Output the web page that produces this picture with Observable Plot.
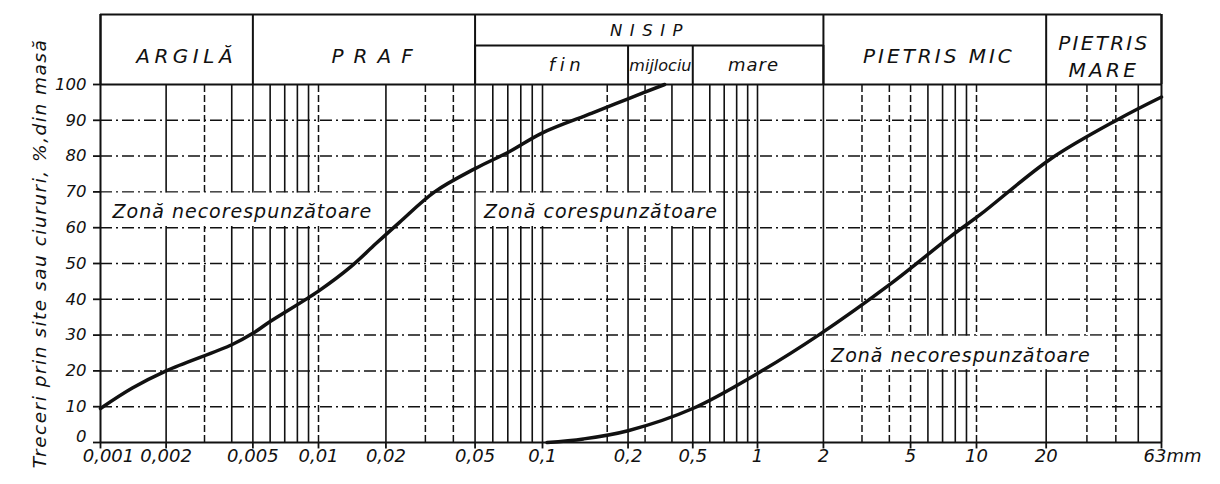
<!DOCTYPE html>
<html><head><meta charset="utf-8">
<script src="https://cdn.jsdelivr.net/npm/d3@7"></script>
<script src="https://cdn.jsdelivr.net/npm/@observablehq/plot@0.6"></script>
<style>
html,body{margin:0;padding:0;background:#fff;}
</style>
</head><body><div id="chart"></div>
<script>
// ---- data ----
const upperLimit = [[0.001,9.5],[0.0014,15.2],[0.002,20],[0.004,27.3],[0.005,30.5],[0.006,33.8],[0.01,42.3],[0.014,49.2],[0.018,55.5],[0.023,61.5],[0.033,70],[0.05,76.5],[0.07,81],[0.1,86.5],[0.17,92],[0.25,96],[0.37,100]];
const lowerLimit = [[0.105,0],[0.155,1],[0.25,3.3],[0.5,9.5],[1,19.3],[1.9,30],[4.05,44.3],[7.6,57.5],[10.4,63.7],[20.9,79.2],[41,90.3],[63,96.5]];
const xTickValues = [0.001,0.002,0.005,0.01,0.02,0.05,0.1,0.25,0.5,1,2,5,10,20];
const xTickLabels = ["0,001","0,002","0,005","0,01","0,02","0,05","0,1","0,2","0,5","1","2","5","10","20"];
const xEndValue = [63];
const xEndLabel = ["63mm"];
const yTickValues = [0,10,20,30,40,50,60,70,80,90,100];
const gridSolid = [0.002,0.004,0.005,0.006,0.007,0.008,0.009,0.02,0.05,0.06,0.07,0.08,0.09,0.1,0.25,0.4,0.5,0.6,0.7,0.8,0.9,1,2,6,7,8,9,20,50];
const gridDashed = [0.003,0.01,0.03,0.04,0.2,0.3,3,4,5,10,30,40];
const gridRows = [10,20,30,40,50,60,70,80,90];
const fractionNames = ["ARGILĂ","PRAF","NISIP","PIETRIS MIC","PIETRIS\nMARE"];
const fractionBounds = [0.001,0.005,0.05,2,20,63];
const sandNames = ["fin","mijlociu","mare"];
const sandBounds = [0.05,0.25,0.5,2];
const zoneLabels = ["Zonă necorespunzătoare","Zonă corespunzătoare","Zonă necorespunzătoare"];
const zoneX = [[0.001,0.02],[0.05,0.7],[2,36]];
const zoneY = [[60,70],[60,70],[20,30]];
const yTitle = "Treceri prin site sau ciururi, %,din masă";

// ---- layout ----
const INK = "#111";
const FONT = "DejaVu Sans";
const headerTop = 119.55, headerMid = 110.9;
const gmean = (a,b) => Math.sqrt(a*b);
const fractions = fractionNames.map((n,i) => ({name:n, x: gmean(fractionBounds[i], fractionBounds[i+1])}));
const sands = sandNames.map((n,i) => ({name:n, x: gmean(sandBounds[i], sandBounds[i+1])}));
const zones = zoneLabels.map((n,i) => ({name:n, x1:zoneX[i][0], x2:zoneX[i][1], y1:zoneY[i][0], y2:zoneY[i][1]}));
const italic = {fontStyle: "italic", fill: INK};

const chart = Plot.plot({
  width: 1220, height: 484,
  marginLeft: 100, marginRight: 59, marginTop: 84, marginBottom: 42,
  style: {fontFamily: FONT, background: "#fff", color: INK},
  x: {type: "log", domain: [0.001,0.01,0.1,1,10,63], range: [100,318,542,757,976,1161], axis: null},
  y: {domain: [0,100], axis: null},
  marks: [
    // grid
    Plot.ruleY(gridRows, {x1: 0.001, x2: 63, stroke: INK, strokeWidth: 1.5, strokeDasharray: "12,4,2,4"}),
    Plot.ruleX(gridDashed, {y1: 0, y2: 100, stroke: INK, strokeWidth: 1.5, strokeDasharray: "7,3"}),
    Plot.ruleX(gridSolid, {y1: 0, y2: 100, stroke: INK, strokeWidth: 1.6}),
    // zone boxes
    Plot.rect(zones, {x1: "x1", x2: "x2", y1: "y1", y2: "y2", fill: "#fff", inset: 1.2}),
    Plot.text(zones, {x: d => gmean(d.x1, d.x2), y: d => (d.y1 + d.y2)/2 - 0.7, text: "name", fontSize: 19, ...italic}),
    // frame
    Plot.ruleY([0,100], {x1: 0.001, x2: 63, stroke: INK, strokeWidth: 2.1}),
    Plot.ruleY([headerTop], {x1: 0.001, x2: 63, stroke: INK, strokeWidth: 2.1}),
    Plot.ruleX(fractionBounds, {y1: 0, y2: headerTop, stroke: INK, strokeWidth: 2, filter: (d,i) => i === 0 || i === fractionBounds.length - 1}),
    Plot.ruleX(fractionBounds, {y1: 100, y2: headerTop, stroke: INK, strokeWidth: 2}),
    Plot.ruleY([headerMid], {x1: sandBounds[0], x2: sandBounds[sandBounds.length-1], stroke: INK, strokeWidth: 2}),
    Plot.ruleX(sandBounds, {y1: 100, y2: headerMid, stroke: INK, strokeWidth: 2}),
    // header texts
    Plot.text(fractions.filter(d => d.name !== "NISIP"), {x: "x", y: 108.3, text: "name", fontSize: 20, lineHeight: 1.35, ...italic}),
    Plot.text(fractions.filter(d => d.name === "NISIP"), {x: "x", y: 115, text: "name", fontSize: 16.5, ...italic}),
    Plot.text(sands, {x: "x", y: 105.3, text: "name", fontSize: 18, ...italic}),
    // curves
    Plot.line(upperLimit, {x: d => d[0], y: d => d[1], curve: "catmull-rom", stroke: INK, strokeWidth: 3.5}),
    Plot.line(lowerLimit, {x: d => d[0], y: d => d[1], curve: "catmull-rom", stroke: INK, strokeWidth: 3.5}),
    // axes
    Plot.axisY({ticks: yTickValues, tickFormat: d => (d === 0 ? "" : String(d)), tickSize: 7, tickPadding: 7, fontSize: 16.5, fontStyle: "italic", label: null, strokeWidth: 1.8}),
    Plot.text(yTickValues.slice(0, 1), {x: 0.001, y: d => d, dx: -14, dy: -6, textAnchor: "end", text: d => String(d), fontSize: 16.5, ...italic}),
    Plot.ruleX(xTickValues.concat(xEndValue), {y1: 0, y2: -1.8, stroke: INK, strokeWidth: 1.8}),
    Plot.text(xTickValues.slice(0, 1), {x: d => d, y: 0, dy: 14, dx: 8, text: (d,i) => xTickLabels[i], fontSize: 18, ...italic}),
    Plot.text(xTickValues.slice(1), {x: d => d, y: 0, dy: 14, text: (d,i) => xTickLabels[i + 1], fontSize: 18, ...italic}),
    Plot.text(xEndValue, {x: d => d, y: 0, dy: 14, dx: -18, textAnchor: "start", text: (d,i) => xEndLabel[i], fontSize: 18, ...italic}),
    Plot.text([yTitle], {frameAnchor: "left", textAnchor: "middle", dx: -60, dy: -10, rotate: -90, text: d => d, fontSize: 18.5, ...italic})
  ]
});

// lettering adjustments (font size, letter spacing, horizontal nudge), matched by text content
const lettering = {"ARGILĂ": [null, 4.5, 10], "PRAF": [null, 10, 14], "NISIP": [null, 7.5, 0], "PIETRIS MIC": [null, 3, 6],
  "PIETRIS": [null, 2.3, 0], "MARE": [null, 3.3, 0], "fin": [null, 4.5, 14], "mijlociu": [16, 0, 0], "mare": [null, 1, -4],
  "Zonă necorespunzătoare": [null, 1, 0], "Zonă corespunzătoare": [null, 1, 0], [yTitle]: [null, 1.5, 0]};
d3.select(chart).selectAll("text, tspan").each(function() {
  if (this.tagName === "text" && this.querySelector("tspan")) return;
  const s = lettering[this.textContent.trim()];
  if (!s) return;
  if (s[0]) this.style.fontSize = s[0] + "px";
  this.style.letterSpacing = s[1] + "px";
  if (s[2]) this.setAttribute("dx", s[2]);
});
document.getElementById("chart").appendChild(chart);
</script>
</body></html>
